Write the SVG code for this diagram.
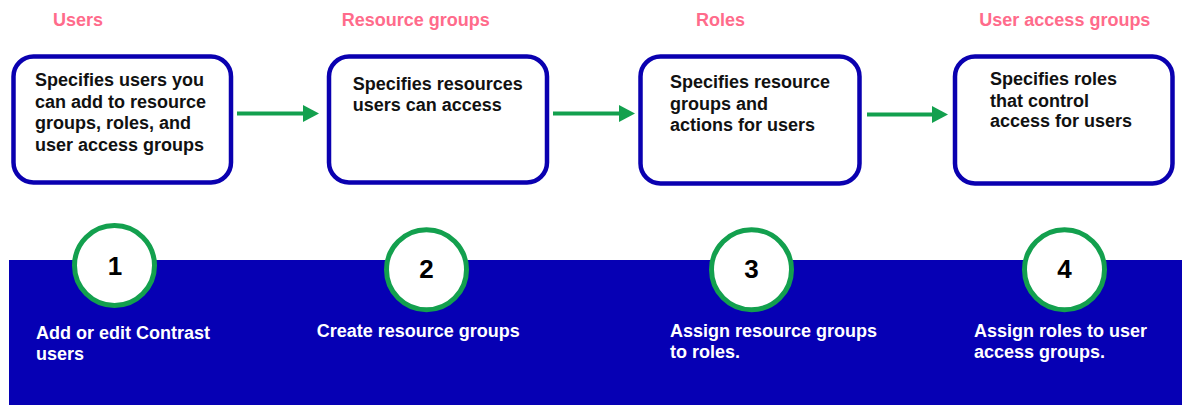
<svg xmlns="http://www.w3.org/2000/svg" width="1182" height="405" viewBox="0 0 1182 405">
<style>
.lbl{font-family:"Liberation Sans",Arial,sans-serif;font-weight:bold;font-size:18px;fill:#ff6b8b}
.box{fill:#ffffff;stroke:#0a00b0;stroke-width:4.5}
.bt{font-family:"Liberation Sans",Arial,sans-serif;font-weight:bold;font-size:18px;fill:#111111}
.circ{fill:#ffffff;stroke:#13a04e;stroke-width:5}
.num{font-family:"Liberation Sans",Arial,sans-serif;font-weight:bold;font-size:26px;fill:#000000;text-anchor:middle}
.st{font-family:"Liberation Sans",Arial,sans-serif;font-weight:bold;font-size:18px;fill:#ffffff}
.arr{stroke:#13a04e;stroke-width:4;fill:none;marker-end:url(#ah)}
</style>
<defs>
<marker id="ah" markerWidth="4" markerHeight="4.2" refX="0" refY="2.1" orient="auto" markerUnits="strokeWidth">
<path d="M0,0 L4,2.1 L0,4.2 Z" fill="#13a04e"/>
</marker>
</defs>
<rect id="band" x="9" y="260" width="1173" height="145" fill="#0600b4"/>
<g id="connectors">
<line class="arr" x1="237" y1="113.5" x2="303" y2="113.5"/>
<line class="arr" x1="553" y1="113.5" x2="619" y2="113.5"/>
<line class="arr" x1="867" y1="114.5" x2="932" y2="114.5"/>
</g>
<g id="users">
<text class="lbl" x="53" y="26">Users</text>
<rect class="box" x="13.5" y="56.5" width="217.5" height="126" rx="20"/>
<text class="bt" x="35" y="86">Specifies users you</text>
<text class="bt" x="35" y="107.7">can add to resource</text>
<text class="bt" x="35" y="129.3">groups, roles, and</text>
<text class="bt" x="35" y="151">user access groups</text>
</g>
<g id="resource-groups">
<text class="lbl" x="341.7" y="26">Resource groups</text>
<rect class="box" x="329" y="56.5" width="218" height="126" rx="20"/>
<text class="bt" x="352.7" y="90">Specifies resources</text>
<text class="bt" x="352.7" y="111">users can access</text>
</g>
<g id="roles">
<text class="lbl" x="696" y="26">Roles</text>
<rect class="box" x="640.5" y="56.5" width="219" height="127" rx="20"/>
<text class="bt" x="670" y="88.3">Specifies resource</text>
<text class="bt" x="670" y="110">groups and</text>
<text class="bt" x="670" y="131">actions for users</text>
</g>
<g id="user-access-groups">
<text class="lbl" x="979.3" y="26">User access groups</text>
<rect class="box" x="955" y="56.5" width="217.5" height="127" rx="20"/>
<text class="bt" x="990" y="85">Specifies roles</text>
<text class="bt" x="990" y="106.7">that control</text>
<text class="bt" x="990" y="127.3">access for users</text>
</g>
<g id="step1">
<circle class="circ" cx="114.5" cy="265.5" r="40"/>
<text class="num" x="115" y="274.5">1</text>
<text class="st" x="36" y="339">Add or edit Contrast</text>
<text class="st" x="36" y="359.5">users</text>
</g>
<g id="step2">
<circle class="circ" cx="426.5" cy="269.7" r="40"/>
<text class="num" x="426.5" y="277.5">2</text>
<text class="st" x="316.7" y="337">Create resource groups</text>
</g>
<g id="step3">
<circle class="circ" cx="751.5" cy="269.7" r="40"/>
<text class="num" x="751.5" y="277.5">3</text>
<text class="st" x="670" y="337">Assign resource groups</text>
<text class="st" x="670" y="357.7">to roles.</text>
</g>
<g id="step4">
<circle class="circ" cx="1064.5" cy="269.7" r="40"/>
<text class="num" x="1064.5" y="277.5">4</text>
<text class="st" x="974" y="337">Assign roles to user</text>
<text class="st" x="974" y="357.7">access groups.</text>
</g>
</svg>
